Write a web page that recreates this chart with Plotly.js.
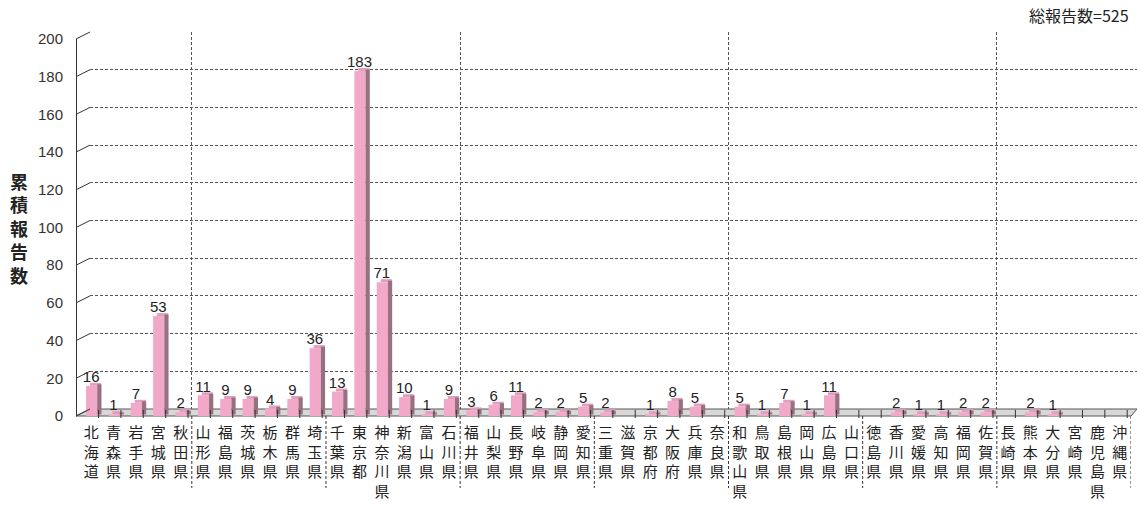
<!DOCTYPE html>
<html>
<head>
<meta charset="utf-8">
<script src="https://cdn.plot.ly/plotly-3.0.1.min.js"></script>
<style>html,body{margin:0;padding:0;background:#fff}#chart{width:1137px;height:508px}</style>
</head>
<body>
<div id="chart"></div>
<script>
// ---- data ----
const prefectures = ['北海道','青森県','岩手県','宮城県','秋田県','山形県','福島県','茨城県','栃木県','群馬県','埼玉県','千葉県','東京都','神奈川県','新潟県','富山県','石川県','福井県','山梨県','長野県','岐阜県','静岡県','愛知県','三重県','滋賀県','京都府','大阪府','兵庫県','奈良県','和歌山県','鳥取県','島根県','岡山県','広島県','山口県','徳島県','香川県','愛媛県','高知県','福岡県','佐賀県','長崎県','熊本県','大分県','宮崎県','鹿児島県','沖縄県'];
const reports = [16,1,7,53,2,11,9,9,4,9,36,13,183,71,10,1,9,3,6,11,2,2,5,2,0,1,8,5,0,5,1,7,1,11,0,0,2,1,1,2,2,0,2,1,0,0,0];
const yTicks = [0,20,40,60,80,100,120,140,160,180,200];
const yTitle = '累積報告数';
const totalLabel = '総報告数=';

// ---- geometry helpers (pixels -> paper) ----
const W = 1137, H = 508;
const px = x => x / W;
const py = y => 1 - y / H;
const FRONT0 = 416, FRONT200 = 39, BACK0 = 409, BACK200 = 32;
const AXIS_X = 76, WALL_X = 90;
const yFront = v => FRONT0 - (FRONT0 - FRONT200) * v / 200;
const yBack = v => BACK0 - (BACK0 - BACK200) * v / 200;
const depth = 1.6;

const total = reports.reduce((a, b) => a + b, 0);
const ticktext = prefectures.map(s => s.split('').join('<br>'));

const traces = [
  { // back wall subplot carrier (invisible)
    type: 'scatter', mode: 'none', x: prefectures.map((p, i) => i), y: reports,
    xaxis: 'x', yaxis: 'y', hoverinfo: 'skip', showlegend: false
  },
  { // top face
    type: 'bar', x: prefectures, y: reports.map(v => v > 0 ? depth : 0), base: reports,
    offset: -0.054, width: 0.5, marker: { color: '#E2A0BD', line: { width: 0 } },
    xaxis: 'x2', yaxis: 'y2', hoverinfo: 'skip', showlegend: false
  },
  { // front face
    type: 'bar', x: prefectures, y: reports,
    offset: -0.23, width: 0.5, marker: { color: '#F2A9C9', line: { width: 0 } },
    xaxis: 'x2', yaxis: 'y2', showlegend: false
  },
  { // side face
    type: 'bar', x: prefectures, y: reports, base: depth * 0.5,
    offset: 0.27, width: 0.19, marker: { color: '#977181', line: { width: 0 } },
    xaxis: 'x2', yaxis: 'y2', hoverinfo: 'skip', showlegend: false
  },
  { // value labels
    type: 'scatter', mode: 'text', x: prefectures, y: reports,
    text: reports.map(v => v > 0 ? String(v) : ''), textposition: 'top center',
    textfont: { family: 'Liberation Sans, Arial, sans-serif', size: 15, color: '#222' },
    cliponaxis: false, xaxis: 'x2', yaxis: 'y2', hoverinfo: 'skip', showlegend: false
  }
];

const shapes = [];
// floor
shapes.push({
  type: 'path', xref: 'paper', yref: 'paper', layer: 'below',
  path: `M ${px(AXIS_X)},${py(FRONT0)} L ${px(WALL_X)},${py(BACK0)} L ${px(1137)},${py(BACK0)} L ${px(1131)},${py(FRONT0)} Z`,
  fillcolor: '#D8D8D8', line: { color: '#555', width: 1 }
});
// slanted connectors from front axis to back wall
yTicks.forEach(v => {
  shapes.push({
    type: 'line', xref: 'paper', yref: 'paper', layer: 'above',
    x0: px(AXIS_X), y0: py(yFront(v)), x1: px(WALL_X), y1: py(yBack(v)),
    line: { color: '#333', width: 1 }
  });
});
// floor tick marks
prefectures.forEach((p, i) => {
  shapes.push({
    type: 'line', xref: 'x2', yref: 'paper', layer: 'above',
    x0: i + 0.33, x1: i + 0.33, y0: py(BACK0 + 1), y1: py(FRONT0 + 2),
    line: { color: '#333', width: 1 }
  });
});
// group separators among labels
for (let k = 4.5; k < prefectures.length; k += 6) {
  shapes.push({
    type: 'line', xref: 'x2', yref: 'paper', layer: 'above',
    x0: k, x1: k, y0: py(FRONT0), y1: py(488),
    line: { color: '#333', width: 1, dash: '3px,2px' }
  });
}

const layout = {
  width: W, height: H,
  margin: { l: 0, r: 0, t: 0, b: 0 },
  paper_bgcolor: '#fff', plot_bgcolor: 'rgba(0,0,0,0)',
  barmode: 'overlay', showlegend: false,
  font: { family: 'Liberation Sans, Arial, sans-serif', color: '#222' },
  xaxis: { // back wall
    domain: [px(WALL_X), 1], anchor: 'y', type: 'linear',
    range: [(WALL_X - 91.2) / 22.36, (1137 - 91.2) / 22.36],
    tickvals: [4.5, 16.5, 28.5, 40.5], showticklabels: false, ticks: '',
    showgrid: true, gridcolor: '#555', gridwidth: 1, griddash: '3px,2px',
    zeroline: false, showline: false, fixedrange: true
  },
  yaxis: {
    domain: [py(BACK0), py(BACK200)], anchor: 'x', range: [0, 200],
    tickvals: yTicks, showticklabels: false, ticks: '',
    showgrid: true, gridcolor: '#555', gridwidth: 1, griddash: '3px,2px',
    zeroline: false, showline: false, fixedrange: true
  },
  xaxis2: { // data
    domain: [px(80), px(1131)], anchor: 'y2', type: 'category',
    range: [-0.5, prefectures.length - 0.5],
    tickvals: prefectures, ticktext: ticktext, ticks: '',
    tickfont: { family: 'Noto Sans CJK JP, sans-serif', size: 15, color: '#222' },
    tickangle: 0, showgrid: false, zeroline: false, showline: false, fixedrange: true,
    automargin: false, ticklabelstandoff: 6
  },
  yaxis2: {
    domain: [py(FRONT0), py(FRONT200)], anchor: 'free', position: px(AXIS_X),
    range: [0, 200], tickvals: yTicks, ticks: '',
    tickfont: { family: 'Liberation Sans, Arial, sans-serif', size: 15, color: '#333' },
    showgrid: false, zeroline: false, showline: true, linecolor: '#333', linewidth: 1,
    fixedrange: true, automargin: false, ticklabelstandoff: 10
  },
  shapes: shapes,
  annotations: [
    {
      xref: 'paper', yref: 'paper', x: px(19), y: py(228), xanchor: 'center', yanchor: 'middle',
      text: yTitle.split('').join('<br>'), showarrow: false,
      font: { family: 'Noto Sans CJK JP, sans-serif', size: 18, color: '#222', weight: 'bold' }
    },
    {
      xref: 'paper', yref: 'paper', x: px(1131), y: py(15), xanchor: 'right', yanchor: 'middle',
      text: totalLabel + total, showarrow: false,
      font: { family: 'Noto Sans CJK JP, sans-serif', size: 16, color: '#222' }
    }
  ]
};

Plotly.newPlot('chart', traces, layout, { staticPlot: true, displayModeBar: false });
</script>
</body>
</html>
